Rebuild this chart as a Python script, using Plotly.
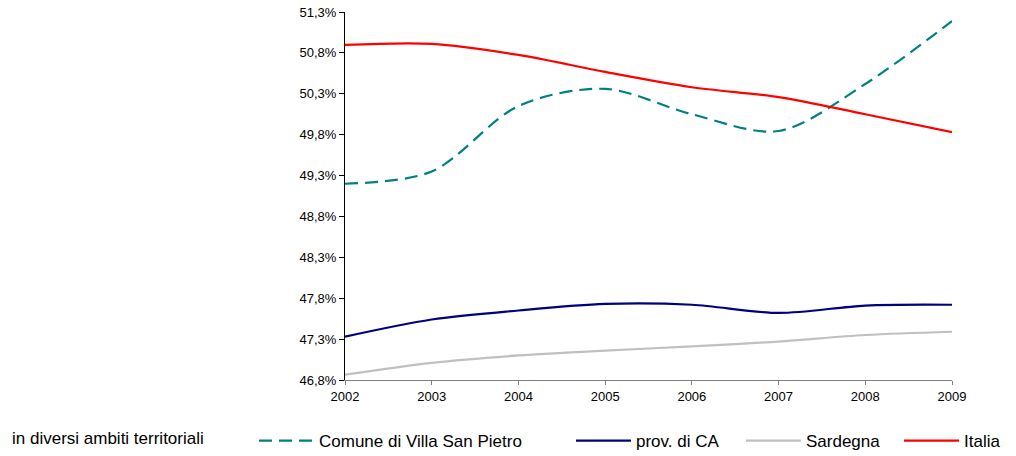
import plotly.graph_objects as go

years = [2002, 2003, 2004, 2005, 2006, 2007, 2008, 2009]
comune = [49.20, 49.35, 50.15, 50.36, 50.05, 49.845, 50.42, 51.19]
prov_ca = [47.33, 47.54, 47.65, 47.73, 47.72, 47.62, 47.71, 47.72]
sardegna = [46.865, 47.01, 47.10, 47.16, 47.21, 47.27, 47.35, 47.39]
italia = [50.897, 50.91, 50.775, 50.567, 50.38, 50.26, 50.05, 49.83]

y_ticks = [46.8, 47.3, 47.8, 48.3, 48.8, 49.3, 49.8, 50.3, 50.8, 51.3]
y_labels = ["46,8%", "47,3%", "47,8%", "48,3%", "48,8%", "49,3%", "49,8%", "50,3%", "50,8%", "51,3%"]

series = [
    ("Comune di Villa San Pietro", comune, "#008080", "13px,7px"),
    ("prov. di CA", prov_ca, "#000080", "solid"),
    ("Sardegna", sardegna, "#C0C0C0", "solid"),
    ("Italia", italia, "#FF0000", "solid"),
]

L, R, T, B = 345, 64, 12, 76
PW = 1016 - L - R
PH = 456 - T - B

legend_ids = ["legend", "legend2", "legend3", "legend4"]
legend_px = [254, 571, 741, 899]  # left pixel of each legend box

fig = go.Figure()
for (name, vals, color, dash), lid in zip(series, legend_ids):
    fig.add_trace(go.Scatter(
        x=years, y=vals, name=name, mode="lines", legend=lid,
        line=dict(color=color, width=2.2, dash=dash, shape="spline", smoothing=0.9),
    ))

leg_y = -(441 - (T + PH)) / PH
legends = {}
for lid, px in zip(legend_ids, legend_px):
    legends[lid] = dict(
        orientation="h", x=(px - L) / PW, xanchor="left", y=leg_y, yanchor="middle",
        font=dict(size=17), itemwidth=55, bgcolor="rgba(0,0,0,0)",
    )

fig.update_layout(
    width=1016, height=456,
    margin=dict(l=L, r=R, t=T, b=B, autoexpand=False),
    paper_bgcolor="white", plot_bgcolor="white",
    font=dict(family="Liberation Sans, Arial, sans-serif", color="black", size=12),
    showlegend=True,
    annotations=[dict(
        text="in diversi ambiti territoriali", x=(10 - L) / PW, xref="paper", xanchor="left",
        y=-(438 - (T + PH)) / PH, yref="paper", yanchor="middle", showarrow=False,
        font=dict(size=17),
    )],
    **legends,
)

fig.update_xaxes(
    range=[2002, 2009], tickmode="array", tickvals=years,
    ticktext=[str(y) for y in years],
    showline=True, linecolor="#808080", linewidth=1,
    ticks="outside", ticklen=4, tickcolor="#808080",
    showgrid=False, zeroline=False, tickfont=dict(size=13),
)
fig.update_yaxes(
    range=[46.8, 51.3], tickmode="array", tickvals=y_ticks, ticktext=y_labels,
    showline=True, linecolor="black", linewidth=1,
    ticks="outside", ticklen=5, tickcolor="black",
    showgrid=False, zeroline=False, tickfont=dict(size=13),
)

fig.write_html(
    "out.html",
    config={"displayModeBar": False},
    post_script="document.body.style.margin='0';document.body.style.padding='0';document.body.style.overflow='hidden';",
)
